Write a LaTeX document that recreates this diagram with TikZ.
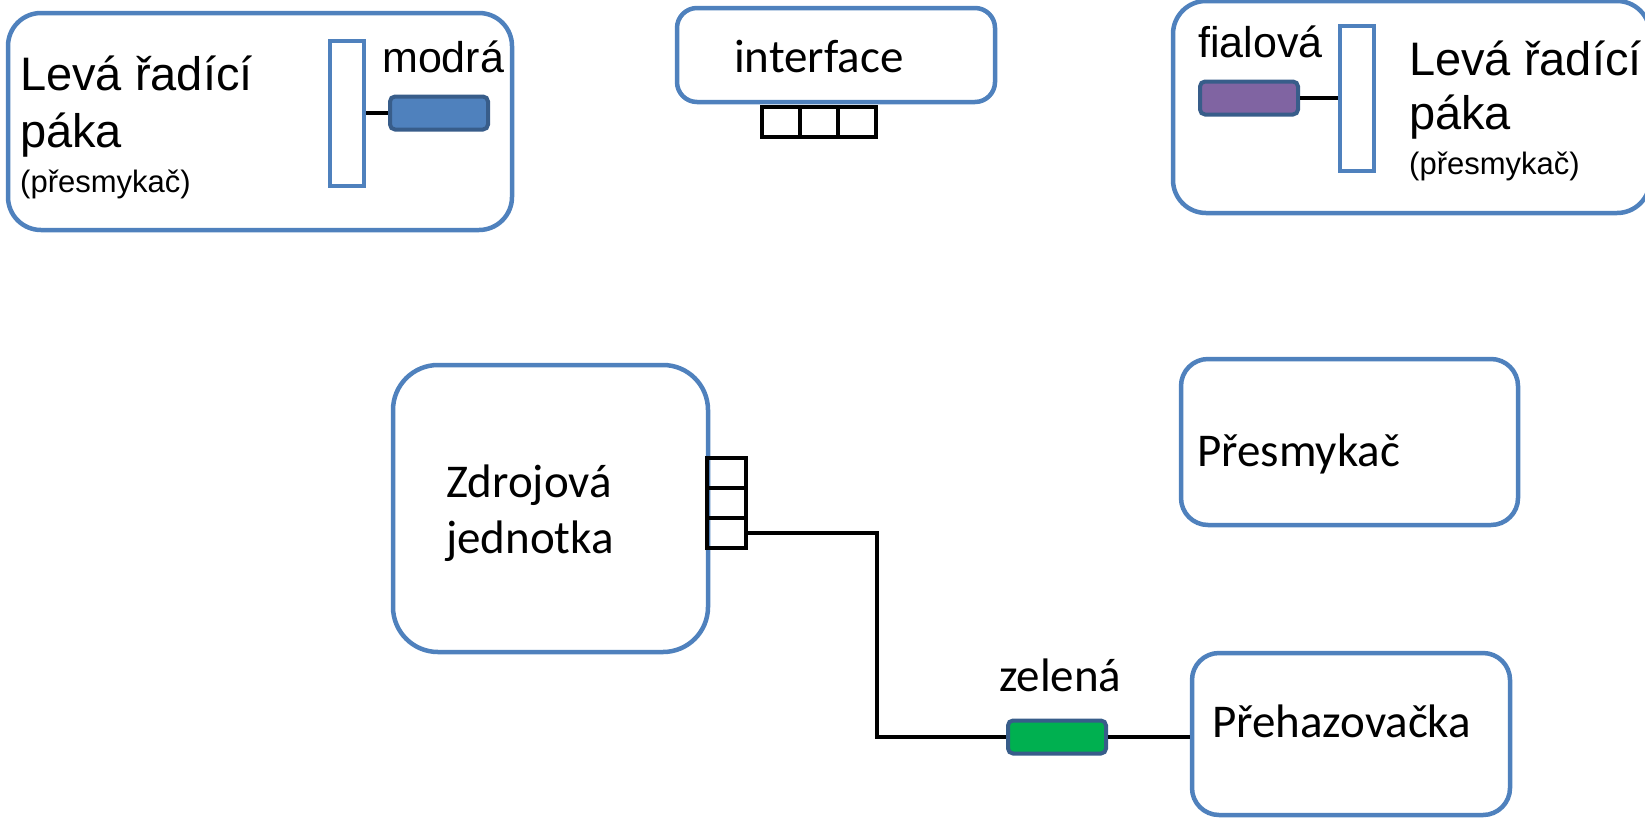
\documentclass[tikz,border=0pt]{standalone}
\usepackage{fontspec}
\usepackage{xcolor}
\usepackage{tikz}
\usetikzlibrary{positioning}
\newfontfamily\arialfont{Liberation Sans}
\newfontfamily\calfont{Carlito}
\definecolor{unitblue}{RGB}{79,129,189}
\definecolor{pillborder}{RGB}{56,93,138}
\definecolor{wireblue}{RGB}{79,129,189}
\definecolor{wirepurple}{RGB}{128,100,162}
\definecolor{wiregreen}{RGB}{0,176,80}

\begin{document}
\begin{tikzpicture}[
    x=1pt, y=-1pt,
    node distance=0pt,
    unit/.style={rectangle, draw=unitblue, line width=4.5pt, fill=white, inner sep=0},
    bar/.style={rectangle, draw=unitblue, line width=4pt, fill=white, minimum width=34pt, minimum height=145pt, inner sep=0},
    pill/.style={rectangle, draw=pillborder, line width=4pt, rounded corners=5pt, minimum width=98pt, minimum height=33pt, inner sep=0},
    port/.style={rectangle, draw, line width=4.5pt, minimum width=38pt, minimum height=30pt, inner sep=0, outer sep=0},
    wire/.style={line width=4pt},
    lbl/.style={inner sep=0, anchor=base west},
    bigtxt/.style={lbl, font=\arialfont\fontsize{47}{56}\selectfont},
    smalltxt/.style={lbl, font=\arialfont\fontsize{31}{37}\selectfont},
    colortxt/.style={lbl, font=\arialfont\fontsize{43}{50}\selectfont},
    caltxt/.style={lbl, font=\calfont\fontsize{47}{56}\selectfont},
]
\useasboundingbox (0,0) rectangle (1645,817);

% main units
\node[unit, rounded corners=33pt, minimum width=504pt, minimum height=217pt] (leverL) at (260,121.5) {};
\node[unit, rounded corners=20pt, minimum width=318pt, minimum height=94pt] (iface) at (836,55) {};
\node[unit, rounded corners=33pt, minimum width=477pt, minimum height=212pt] (leverR) at (1411.5,107) {};
\node[unit, rounded corners=45pt, minimum width=315pt, minimum height=287pt] (source) at (550.5,508.5) {};
\node[unit, rounded corners=27pt, minimum width=337pt, minimum height=166pt] (fderail) at (1349.5,442) {};
\node[unit, rounded corners=27pt, minimum width=318pt, minimum height=162pt] (rderail) at (1351,734) {};

% left lever
\node[bigtxt] (leverLa) at (20,90) {Levá řadící};
\node[bigtxt] (leverLb) at (20,147) {páka};
\node[smalltxt] (leverLc) at (20,192) {(přesmykač)};
\node[bar] (barL) at (347,113) {};
\node[pill, fill=wireblue] (blueP) at (439,113) {};
\node[colortxt] (blueT) at (382,72) {modrá};
\draw[wire] (barL.east) -- (blueP.west);

% right lever
\node[bigtxt] (leverRa) at (1409,75) {Levá řadící};
\node[bigtxt] (leverRb) at (1409,129) {páka};
\node[smalltxt] (leverRc) at (1409,174) {(přesmykač)};
\node[bar] (barR) at (1357,98) {};
\node[pill, fill=wirepurple] (purpleP) at (1249,98) {};
\node[colortxt] (purpleT) at (1198,57) {fialová};
\draw[wire] (purpleP.east) -- (barR.west);

% interface
\node[caltxt] (ifaceT) at (734,72) {interface};
\node[port] (ip1) at (781,122) {};
\node[port, right=of ip1] (ip2) {};
\node[port, right=of ip2] (ip3) {};

% power unit
\node[caltxt] (sourceA) at (446,497) {Zdrojová};
\node[caltxt] (sourceB) at (446,553) {jednotka};
\node[port, minimum width=39pt] (sp1) at (726.5,473) {};
\node[port, minimum width=39pt, below=of sp1] (sp2) {};
\node[port, minimum width=39pt, below=of sp2] (sp3) {};

% derailleurs
\node[caltxt] (fderailT) at (1197,466) {Přesmykač};
\node[caltxt] (rderailT) at (1212,737) {Přehazovačka};

% green cable
\coordinate (bend) at (877,0);
\node[pill, fill=wiregreen] (greenP) at (1057,737) {};
\node[caltxt] (greenT) at (999,691) {zelená};
\draw[wire] (sp3.east) -| (bend |- greenP.west) -- (greenP.west);
\draw[wire] (greenP.east) -- (greenP.east -| rderail.west);

\end{tikzpicture}
\end{document}
